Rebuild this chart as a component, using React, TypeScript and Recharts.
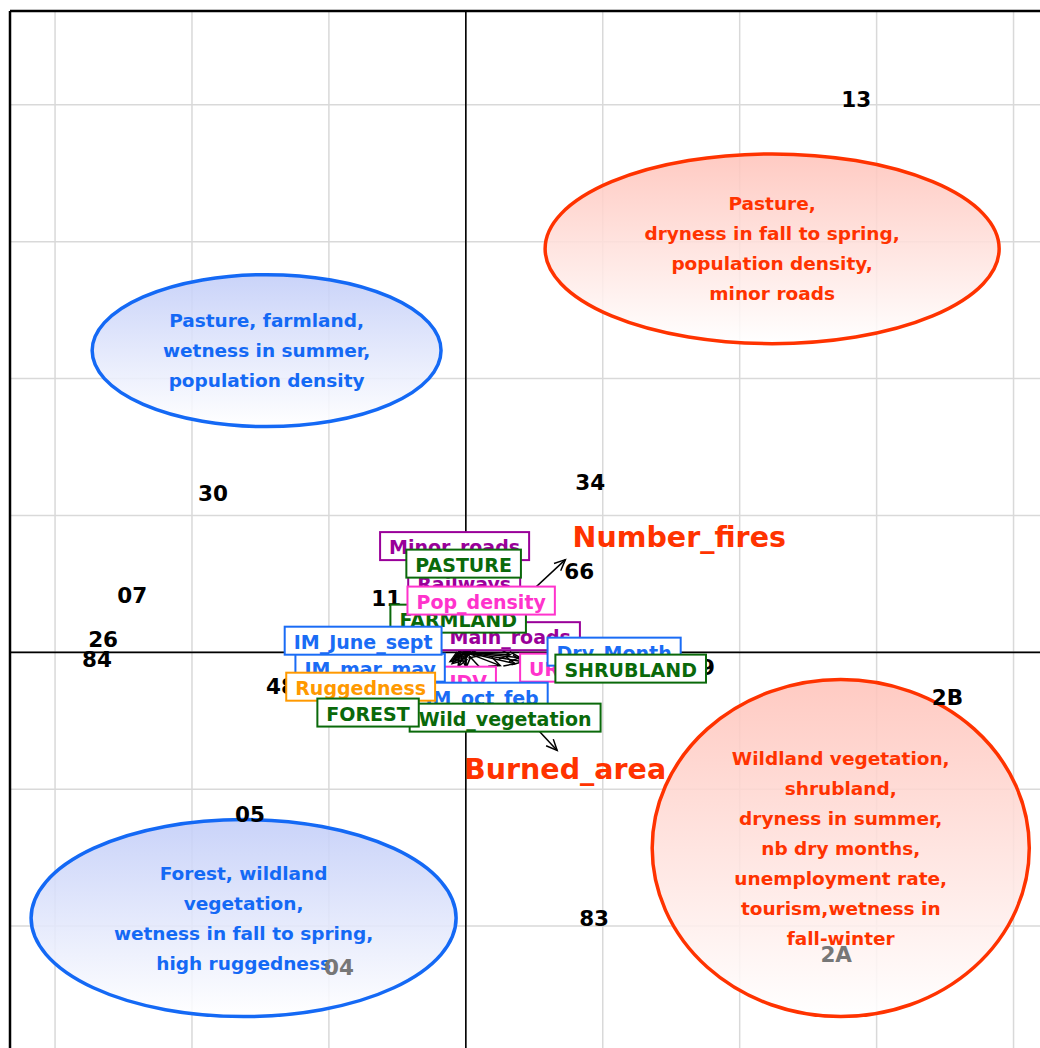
import React from 'react';
import { ComposedChart, XAxis, YAxis, CartesianGrid, ReferenceLine, ReferenceArea, Scatter, Line } from 'recharts';

// ---------- data (factor-map units) ----------
const X_DOMAIN: [number, number] = [-3.329, 4.5];
const Y_DOMAIN: [number, number] = [-3.0, 4.685];
const X_TICKS = [-3, -2, -1, 0, 1, 2, 3, 4];
const Y_TICKS = [-2, -1, 0, 1, 2, 3, 4];

const individualNames = ['13', '34', '30', '07', '11', '26', '84', '48', '66', '29', '2B', '05', '83', '04', '2A'];
const individualX = [2.851, 0.908, -1.846, -2.437, -0.582, -2.649, -2.693, -1.35, 0.828, 1.711, 3.517, -1.576, 0.937, -0.926, 2.705];
const individualY = [4.037, 1.24, 1.16, 0.415, 0.392, 0.093, -0.053, -0.251, 0.589, -0.112, -0.331, -1.186, -1.945, -2.303, -2.21];
const individualFaded = [false, false, false, false, false, false, false, false, false, false, false, false, false, true, true];

const variableNames = ['Minor_roads', 'Railways', 'PASTURE', 'Main_roads', 'FARMLAND', 'Pop_density', 'UR', 'Dry_Month', 'SHRUBLAND', 'IDV', 'IM_mar_may', 'IM_June_sept', 'IM_oct_feb', 'Wild_vegetation', 'Ruggedness', 'FOREST'];
const variableGroups = ['roads', 'roads', 'land', 'roads', 'land', 'social', 'social', 'climate', 'land', 'social', 'climate', 'climate', 'climate', 'land', 'terrain', 'land'];
const variableArrowX = [0.068, 0.046, 0.031, 0.324, 0.017, 0.104, 0.36, 0.397, 0.418, 0.002, -0.093, -0.078, -0.056, 0.251, -0.115, -0.1];
const variableArrowY = [0.02, 0.034, 0.02, -0.017, 0.02, -0.024, -0.083, -0.039, -0.068, -0.112, -0.053, -0.031, -0.104, -0.097, -0.068, -0.083];
const variableLabelX = [-0.082, -0.012, -0.016, 0.324, -0.056, 0.112, 0.572, 1.083, 1.204, 0.017, -0.699, -0.75, 0.119, 0.287, -0.768, -0.714];
const variableLabelY = [0.776, 0.509, 0.648, 0.118, 0.246, 0.378, -0.112, 0.005, -0.119, -0.207, -0.112, 0.085, -0.324, -0.477, -0.251, -0.44];

const supplementaryNames = ['Number_fires', 'Burned_area'];
const supplementaryArrowX = [0.727, 0.667];
const supplementaryArrowY = [0.677, -0.717];
const supplementaryLabelX = [1.559, 0.725];
const supplementaryLabelY = [0.838, -0.857];

const ellipseX1 = [-2.729, 0.579, -3.175, 1.361];
const ellipseX2 = [-0.181, 3.895, -0.071, 4.115];
const ellipseY1 = [1.649, 2.255, -2.661, -2.661];
const ellipseY2 = [2.759, 3.641, -1.222, -0.199];
const ellipseTone = ['blue', 'red', 'blue', 'red'];
const ellipseText = [
  ['Pasture, farmland,', 'wetness in summer,', 'population density'],
  ['Pasture,', 'dryness in fall to spring,', 'population density,', 'minor roads'],
  ['Forest, wildland', 'vegetation,', 'wetness in fall to spring,', 'high ruggedness'],
  ['Wildland vegetation,', 'shrubland,', 'dryness in summer,', 'nb dry months,', 'unemployment rate,', 'tourism,wetness in', 'fall-winter'],
];

// ---------- styles ----------
const FONT = '"DejaVu Sans", "Noto Sans", sans-serif';
const GROUP_COLORS: Record<string, string> = {
  roads: '#990099',
  land: '#0a690a',
  social: '#ff33cc',
  climate: '#1a6cf5',
  terrain: '#ff9900',
};
const TONE: Record<string, { stroke: string; top: string }> = {
  blue: { stroke: '#1469f5', top: '#c2cdf8' },
  red: { stroke: '#ff3300', top: '#ffc3ba' },
};
const SUP_COLOR = '#ff3300';
const BOX_FONT_SIZE = 19;

let measureCtx: CanvasRenderingContext2D | null = null;
function measure(text: string, font: string): number {
  if (!measureCtx) measureCtx = document.createElement('canvas').getContext('2d');
  if (!measureCtx) return text.length * 11;
  measureCtx.font = font;
  return measureCtx.measureText(text).width;
}

const individualData = individualNames.map((name, i) => ({ name, x: individualX[i], y: individualY[i], faded: individualFaded[i] }));
const variableData = variableNames.map((name, i) => ({ name, x: variableLabelX[i], y: variableLabelY[i], color: GROUP_COLORS[variableGroups[i]] }));
const supplementaryData = supplementaryNames.map((name, i) => ({ name, x: supplementaryLabelX[i], y: supplementaryLabelY[i] }));
const arrowSets = [
  ...variableNames.map((name, i) => ({ name, tx: variableArrowX[i], ty: variableArrowY[i] })),
  ...supplementaryNames.map((name, i) => ({ name, tx: supplementaryArrowX[i], ty: supplementaryArrowY[i] })),
];

const IndividualShape = (props: any) => {
  const { cx, cy, payload } = props;
  return (
    <text x={cx} y={cy} textAnchor="middle" dominantBaseline="central" fontFamily={FONT} fontWeight="bold" fontSize={21.5}
      fill={payload.faded ? '#777777' : '#000000'}>{payload.name}</text>
  );
};

const BoxShape = (props: any) => {
  const { cx, cy, payload } = props;
  const tw = measure(payload.name, `bold ${BOX_FONT_SIZE}px ${FONT}`);
  const w = tw + 18;
  const h = 28;
  return (
    <g>
      <rect x={cx - w / 2} y={cy - h / 2} width={w} height={h} fill="#ffffff" stroke={payload.color} strokeWidth={2} />
      <text x={cx} y={cy + 1} textAnchor="middle" dominantBaseline="central" fontFamily={FONT} fontWeight="bold"
        fontSize={BOX_FONT_SIZE} fill={payload.color}>{payload.name}</text>
    </g>
  );
};

const SupShape = (props: any) => {
  const { cx, cy, payload } = props;
  return (
    <text x={cx} y={cy} textAnchor="middle" dominantBaseline="central" fontFamily={FONT} fontWeight="bold" fontSize={28.5} fill={SUP_COLOR}>{payload.name}</text>
  );
};

const makeArrowDot = (tx: number, ty: number) => (props: any) => {
  const { cx, cy, index } = props;
  if (index !== 1 || cx == null || cy == null) return <g key={`d${index}`} />;
  const theta = Math.atan2(-ty, tx);
  const L = 12;
  const a = 0.42;
  const p1x = cx - L * Math.cos(theta - a);
  const p1y = cy - L * Math.sin(theta - a);
  const p2x = cx - L * Math.cos(theta + a);
  const p2y = cy - L * Math.sin(theta + a);
  return (
    <path key={`d${index}`} d={`M${p1x},${p1y}L${cx},${cy}L${p2x},${p2y}`} fill="none" stroke="#000" strokeWidth={1.5} />
  );
};

const makeEllipse = (i: number) => (props: any) => {
  const { x, y, width, height } = props;
  if (x == null) return <g />;
  const tone = TONE[ellipseTone[i]];
  const cx = x + width / 2;
  const cy = y + height / 2;
  const lines = ellipseText[i];
  const lh = 30;
  const id = `eg${i}`;
  return (
    <g>
      <defs>
        <linearGradient id={id} x1="0" y1="0" x2="0" y2="1">
          <stop offset="0%" stopColor={tone.top} />
          <stop offset="100%" stopColor="#ffffff" />
        </linearGradient>
      </defs>
      <ellipse cx={cx} cy={cy} rx={width / 2} ry={height / 2} fill={`url(#${id})`} fillOpacity={0.88} stroke={tone.stroke} strokeWidth={3.5} />
      {lines.map((t, k) => (
        <text key={k} x={cx} y={cy + (k - (lines.length - 1) / 2) * lh} textAnchor="middle" dominantBaseline="central"
          fontFamily={FONT} fontWeight="bold" fontSize={18.5} fill={tone.stroke}>{t}</text>
      ))}
    </g>
  );
};

export default function App() {
  return (
    <div style={{ position: 'fixed', left: 0, top: 0, width: 1040, height: 1048, overflow: 'hidden', background: '#ffffff' }}>
      <ComposedChart width={1082} height={1063} margin={{ top: 11, left: 10, right: 0, bottom: 0 }}>
        <XAxis type="number" dataKey="x" domain={X_DOMAIN} ticks={X_TICKS} allowDataOverflow hide />
        <YAxis type="number" dataKey="y" domain={Y_DOMAIN} ticks={Y_TICKS} allowDataOverflow hide />
        <CartesianGrid stroke="#d9d9d9" strokeWidth={1.5} />
        {ellipseX1.map((_, i) => (
          <ReferenceArea key={`e${i}`} x1={ellipseX1[i]} x2={ellipseX2[i]} y1={ellipseY1[i]} y2={ellipseY2[i]}
            ifOverflow="visible" shape={makeEllipse(i)} />
        ))}
        <ReferenceLine x={0} stroke="#000" strokeWidth={1.6} />
        <ReferenceLine y={0} stroke="#000" strokeWidth={1.6} />
        <ReferenceLine x={X_DOMAIN[0]} stroke="#000" strokeWidth={2.5} />
        <ReferenceLine y={Y_DOMAIN[1]} stroke="#000" strokeWidth={2.5} />
        {arrowSets.map((a) => (
          <Line key={`a-${a.name}`} data={[{ x: 0, y: 0 }, { x: a.tx, y: a.ty }]} dataKey="y" stroke="#000" strokeWidth={1.5}
            dot={makeArrowDot(a.tx, a.ty)} activeDot={false} isAnimationActive={false} legendType="none" />
        ))}
        <Scatter data={individualData} dataKey="y" shape={IndividualShape} isAnimationActive={false} legendType="none" />
        <Scatter data={variableData} dataKey="y" shape={BoxShape} isAnimationActive={false} legendType="none" />
        <Scatter data={supplementaryData} dataKey="y" shape={SupShape} isAnimationActive={false} legendType="none" />
      </ComposedChart>
    </div>
  );
}
